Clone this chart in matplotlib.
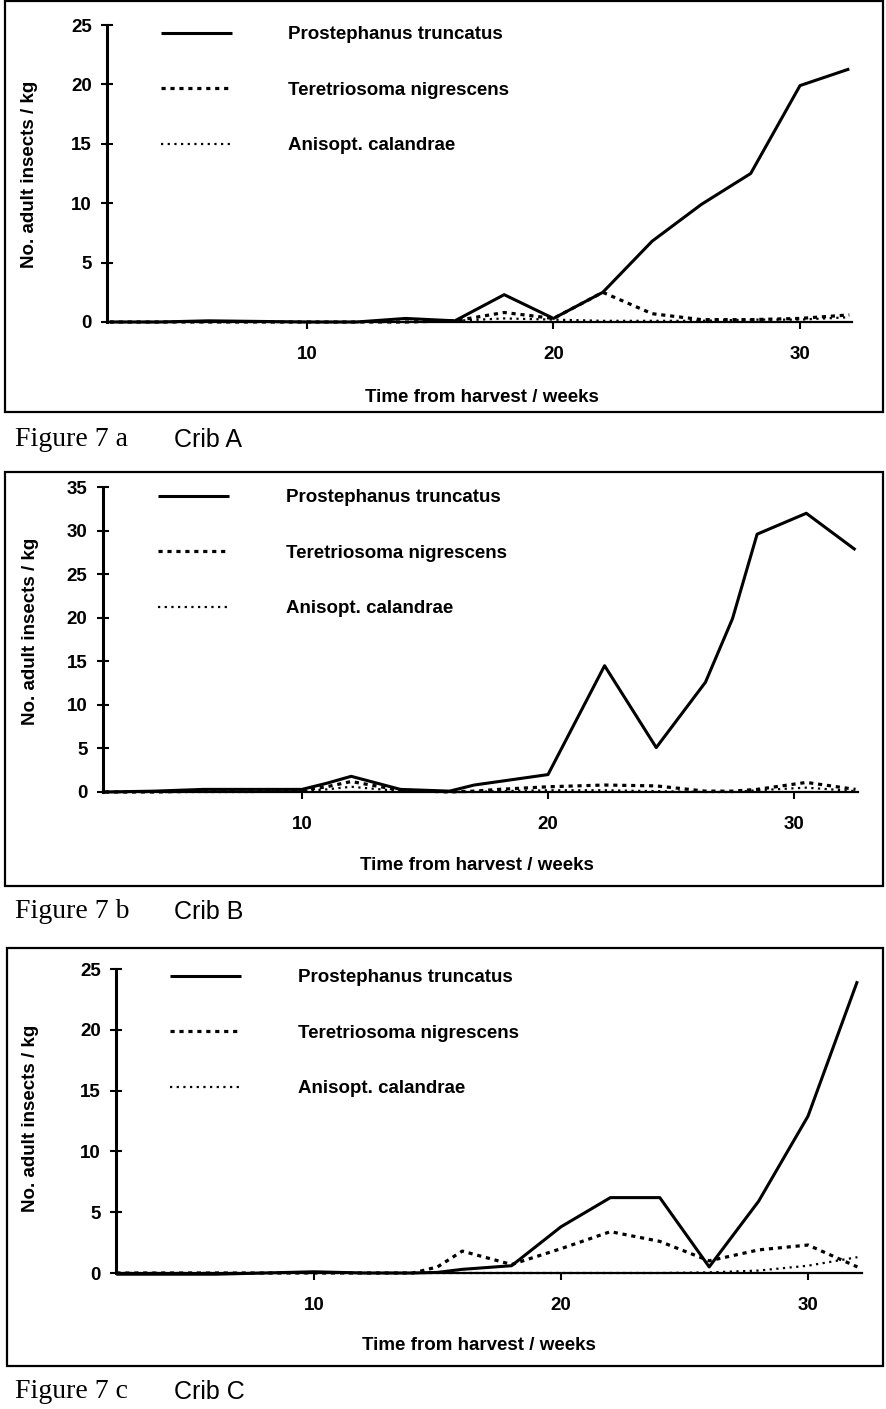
import matplotlib
matplotlib.use("Agg")
import matplotlib.pyplot as plt
from matplotlib.patches import Rectangle
from matplotlib.lines import Line2D

# --- data (adult insects per kg) ---
species = ["Prostephanus truncatus", "Teretriosoma nigrescens", "Anisopt. calandrae"]

weeks_a = [2, 4, 6, 8, 10, 12, 14, 16, 18, 20, 22, 24, 26, 28, 30, 32]
a_truncatus = [0, 0, 0.1, 0.05, 0, 0, 0.3, 0.1, 2.3, 0.3, 2.5, 6.8, 9.9, 12.5, 19.9, 21.3]
a_nigrescens = [0, 0, 0, 0, 0, 0, 0, 0.1, 0.8, 0.3, 2.5, 0.7, 0.2, 0.2, 0.3, 0.6]
a_calandrae = [0, 0, 0, 0, 0, 0, 0, 0.1, 0.3, 0.2, 0.1, 0.1, 0.1, 0.2, 0.2, 0.4]

weeks_b = [2, 4, 6, 8, 10, 11, 12, 14, 16, 17, 18, 20, 22.3, 24.4, 26.4, 27.5, 28.5, 30.5, 32.5]
b_truncatus = [0, 0.1, 0.3, 0.3, 0.3, 1.0, 1.8, 0.3, 0.1, 0.8, 1.2, 2.0, 14.5, 5.1, 12.6, 19.9, 29.6, 32.0, 27.8]
b_nigrescens = [0, 0, 0.1, 0.1, 0.2, 0.6, 1.2, 0.2, 0, 0.1, 0.3, 0.6, 0.8, 0.7, 0.1, 0.1, 0.3, 1.1, 0.3]
b_calandrae = [0, 0, 0, 0, 0.1, 0.3, 0.6, 0.1, 0, 0, 0.1, 0.2, 0.2, 0.1, 0, 0, 0.2, 0.5, 0.1]

weeks_c = [2, 4, 6, 8, 10, 12, 14, 15, 16, 18, 20, 22, 24, 26, 28, 30, 32]
c_truncatus = [-0.1, -0.1, -0.1, 0, 0.1, 0, 0, 0.05, 0.3, 0.6, 3.8, 6.2, 6.2, 0.5, 5.9, 12.9, 24.0]
c_nigrescens = [0, 0, 0, 0, 0, 0, 0, 0.5, 1.8, 0.7, 2.0, 3.4, 2.6, 1.0, 1.9, 2.3, 0.5]
c_calandrae = [0, 0, 0, 0, 0, 0, 0, 0, 0, 0, 0, 0, 0, 0.05, 0.2, 0.6, 1.3]

W, H = 886, 1409
plt.rcParams["font.family"] = ["Liberation Sans", "DejaVu Sans"]
plt.rcParams["font.weight"] = "bold"
fig = plt.figure(figsize=(W / 100, H / 100), dpi=100)

styles = [dict(lw=2.2, solid_capstyle="butt"),
          dict(lw=2.3, dashes=(1.3, 1.5)),
          dict(lw=1.6, dashes=(1.0, 2.0))]

# pixel geometry of each panel: x of week 10, px/week, y of zero, px/unit
panels = [
    dict(weeks=weeks_a, series=[a_truncatus, a_nigrescens, a_calandrae], x10=307, kx=24.65, y0=322, ky=11.88,
         xlim=(1.9, 32.1), ymax=25, frame=(5, 1, 883, 412), cap="A", cap_y=440, ylab=(30, 174), xlab=(482, 397),
         leg=(161, 26)),
    dict(weeks=weeks_b, series=[b_truncatus, b_nigrescens, b_calandrae], x10=302, kx=24.6, y0=792, ky=8.71,
         xlim=(1.9, 32.6), ymax=35, frame=(5, 472, 883, 886), cap="B", cap_y=912, ylab=(31, 631), xlab=(477, 865),
         leg=(158, 489)),
    dict(weeks=weeks_c, series=[c_truncatus, c_nigrescens, c_calandrae], x10=314, kx=24.7, y0=1273, ky=12.16,
         xlim=(2.0, 32.2), ymax=25, frame=(7, 948, 883, 1366), cap="C", cap_y=1392, ylab=(31, 1118), xlab=(479, 1345),
         leg=(170, 969)),
]

for p in panels:
    ylim = (-0.6, p["ymax"] + 0.3)
    left = p["x10"] + (p["xlim"][0] - 10) * p["kx"]
    right = p["x10"] + (p["xlim"][1] - 10) * p["kx"]
    top = p["y0"] - ylim[1] * p["ky"]
    bottom = p["y0"] - ylim[0] * p["ky"]
    ax = fig.add_axes([left / W, 1 - bottom / H, (right - left) / W, (bottom - top) / H])
    ax.patch.set_visible(False)

    for vals, st in zip(p["series"], styles):
        ax.plot(p["weeks"], vals, color="black", clip_on=False, **st)

    ax.set_xlim(*p["xlim"])
    ax.set_ylim(*ylim)
    ax.spines[["top", "right"]].set_visible(False)
    ax.spines["left"].set_bounds(0, p["ymax"])
    ax.spines["left"].set_linewidth(2.2)
    ax.spines["bottom"].set_position(("data", 0))
    ax.spines["bottom"].set_linewidth(1.6)
    ax.set_yticks(range(0, p["ymax"] + 1, 5))
    ax.set_xticks([10, 20, 30])
    ax.tick_params(axis="y", direction="inout", length=8, width=1.5, pad=7, labelsize=13.5)
    ax.tick_params(axis="x", direction="out", length=5, width=1.5, pad=12, labelsize=13.5)

    handles = [Line2D([], [], color="black", **st) for st in styles]
    ax.legend(handles, species, loc="upper left", bbox_to_anchor=(p["leg"][0] / W, 1 - p["leg"][1] / H),
              bbox_transform=fig.transFigure, frameon=False, borderpad=0, borderaxespad=0,
              handlelength=3.8, handletextpad=3.0, labelspacing=2.05,
              prop=dict(size=13.5, weight="bold"))

    fig.text(p["ylab"][0] / W, 1 - p["ylab"][1] / H, "No. adult insects / kg", rotation=90,
             ha="center", va="center", fontsize=13.5, fontweight="bold")
    fig.text(p["xlab"][0] / W, 1 - p["xlab"][1] / H, "Time from harvest / weeks",
             ha="center", va="center", fontsize=13.5, fontweight="bold")

    x0, y0, x1, y1 = p["frame"]
    fig.add_artist(Rectangle((x0 / W, 1 - y1 / H), (x1 - x0) / W, (y1 - y0) / H, transform=fig.transFigure,
                             fill=False, lw=1.6, color="black"))
    fig.text(15 / W, 1 - p["cap_y"] / H, "Figure 7 " + p["cap"].lower(), family="Liberation Serif",
             fontweight="normal", fontsize=20, ha="left", va="center")
    fig.text(174 / W, 1 - p["cap_y"] / H, "Crib " + p["cap"], fontweight="normal", fontsize=18,
             ha="left", va="center")

fig.savefig("out.png", dpi=100)
